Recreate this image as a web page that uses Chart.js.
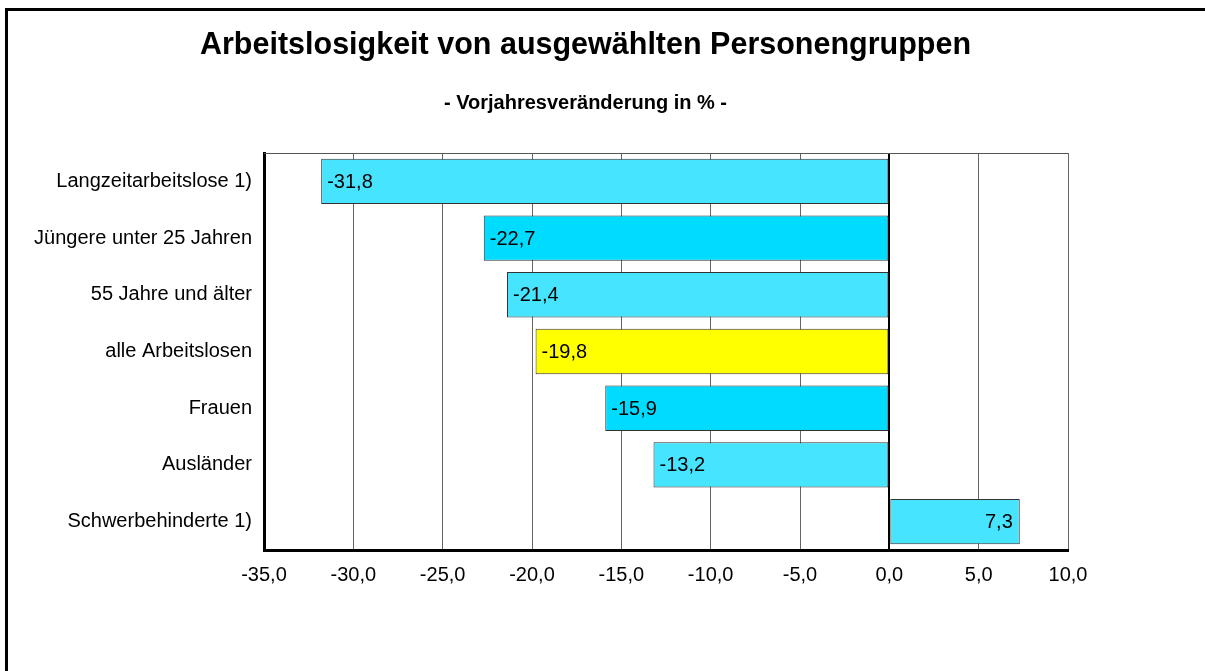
<!DOCTYPE html>
<html><head><meta charset="utf-8">
<script src="https://cdn.jsdelivr.net/npm/chart.js@4/dist/chart.umd.min.js"></script>
<style>html,body{margin:0;padding:0;background:#fff;}#wrap{width:1205px;height:671px;position:relative;}</style>
</head><body><div id="wrap"><canvas id="c" width="1205" height="671"></canvas></div>
<script>
const categories = ["Langzeitarbeitslose 1)", "Jüngere unter 25 Jahren", "55 Jahre und älter", "alle Arbeitslosen", "Frauen", "Ausländer", "Schwerbehinderte 1)"];
const values = [-31.8, -22.7, -21.4, -19.8, -15.9, -13.2, 7.3];
const barColors = ["#46E4FF", "#00DCFF", "#46E4FF", "#FFFF00", "#00DCFF", "#46E4FF", "#46E4FF"];
const titleText = "Arbeitslosigkeit von ausgewählten Personengruppen";
const subtitleText = "- Vorjahresveränderung in % -";
const xMin = -35, xMax = 10, xStep = 5;

const FONT = 'Arial, "Liberation Sans", sans-serif';
const fmt = v => v.toFixed(1).replace('.', ',');

const framePlugin = {
  id: 'frame',
  beforeDraw(chart) {
    const ctx = chart.ctx;
    ctx.save();
    ctx.fillStyle = '#fff';
    ctx.fillRect(0, 0, chart.width, chart.height);
    ctx.strokeStyle = '#000';
    ctx.lineWidth = 3;
    ctx.beginPath();
    ctx.moveTo(6.5, chart.height + 5);
    ctx.lineTo(6.5, 9.5);
    ctx.lineTo(chart.width + 5, 9.5);
    ctx.stroke();
    ctx.restore();
  },
  afterDraw(chart) {
    const a = chart.chartArea, ctx = chart.ctx;
    ctx.save();
    ctx.strokeStyle = '#555';
    ctx.lineWidth = 1;
    ctx.beginPath();
    ctx.moveTo(a.left, a.top + 0.5);
    ctx.lineTo(a.right, a.top + 0.5);
    ctx.stroke();
    ctx.restore();
  }
};

const labelPlugin = {
  id: 'vlabels',
  afterDatasetsDraw(chart) {
    const ctx = chart.ctx;
    const meta = chart.getDatasetMeta(0);
    ctx.save();
    ctx.font = '20px ' + FONT;
    ctx.fillStyle = '#000';
    ctx.textBaseline = 'middle';
    meta.data.forEach((el, i) => {
      const v = values[i];
      if (v < 0) { ctx.textAlign = 'left'; ctx.fillText(fmt(v), el.x + 6, el.y + 1); }
      else { ctx.textAlign = 'right'; ctx.fillText(fmt(v), el.x - 7, el.y + 1); }
    });
    ctx.restore();
  }
};

new Chart(document.getElementById('c'), {
  type: 'bar',
  data: {
    labels: categories,
    datasets: [{
      data: values,
      backgroundColor: barColors,
      borderColor: '#333',
      borderWidth: 1,
      borderSkipped: false,
      barPercentage: 0.8,
      categoryPercentage: 1.0
    }]
  },
  options: {
    indexAxis: 'y',
    responsive: false,
    animation: false,
    layout: { padding: { left: 0, right: 34, top: 0, bottom: 0 } },
    plugins: {
      legend: { display: false },
      tooltip: { enabled: false },
      title: {
        display: true, text: titleText, color: '#000',
        font: { family: FONT, size: 30.5, weight: 'bold' },
        padding: { top: 27, bottom: 0 }
      },
      subtitle: {
        display: true, text: subtitleText, color: '#000',
        font: { family: FONT, size: 20, weight: 'bold' },
        padding: { top: 27.4, bottom: 38 }
      }
    },
    scales: {
      x: {
        min: xMin, max: xMax,
        ticks: {
          stepSize: xStep, color: '#000', padding: 13,
          font: { family: FONT, size: 20 },
          callback: v => fmt(v)
        },
        grid: {
          drawTicks: false,
          color: ctx => (ctx.tick && ctx.tick.value === 0) ? '#000' : '#666',
          lineWidth: ctx => (ctx.tick && ctx.tick.value === 0) ? 2 : 1
        },
        border: { display: true, color: '#000', width: 3 },
        afterFit: s => { s.height = 121; }
      },
      y: {
        ticks: {
          color: '#000', padding: 12,
          font: { family: FONT, size: 20 }
        },
        grid: { display: false, drawTicks: false },
        border: { display: true, color: '#000', width: 3 },
        afterFit: s => { s.width = 264; }
      },
      yRight: {
        type: 'category',
        position: 'right',
        display: true,
        ticks: { display: false },
        grid: { display: false, drawTicks: false },
        border: { display: false },
        afterFit: s => { s.width = 103; }
      }
    }
  },
  plugins: [framePlugin, labelPlugin]
});
</script></body></html>
